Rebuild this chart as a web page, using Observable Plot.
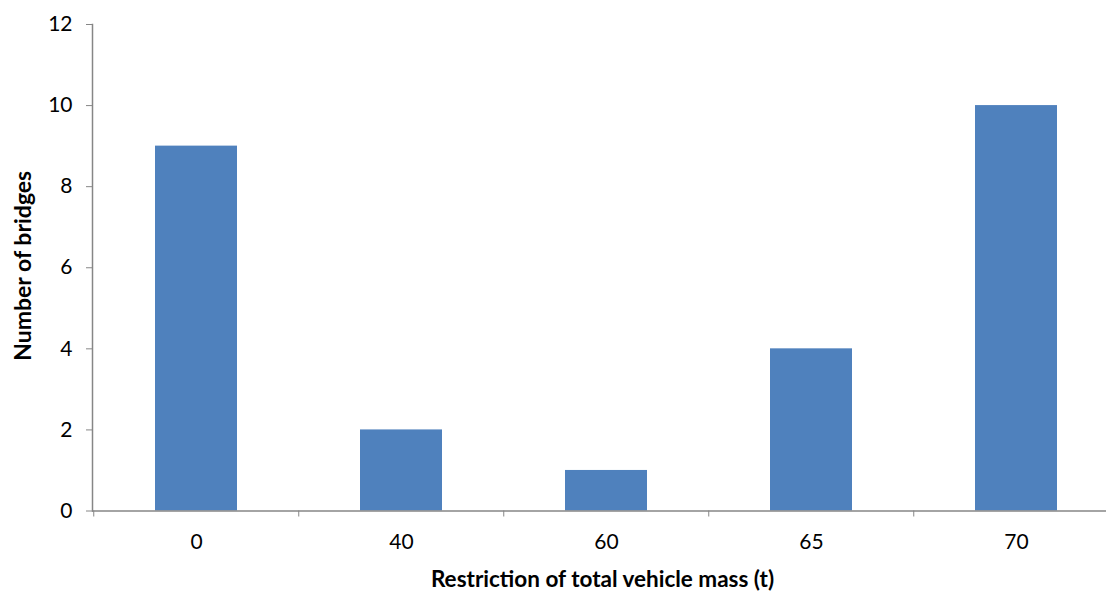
<!DOCTYPE html>
<html>
<head>
<meta charset="utf-8">
<script src="https://cdn.jsdelivr.net/npm/d3@7"></script>
<script src="https://cdn.jsdelivr.net/npm/@observablehq/plot@0.6"></script>
<style>
  html, body { margin: 0; padding: 0; background: #fff; }
  svg { display: block; }
</style>
</head>
<body>
<div id="chart"></div>
<script>
const categories = ["0", "40", "60", "65", "70"];
const bridges = [9, 2, 1, 4, 10];
const yTicks = [0, 2, 4, 6, 8, 10, 12];
const xTitle = "Restriction of total vehicle mass (t)";
const yTitle = "Number of bridges";

const data = categories.map((c, i) => ({mass: c, count: bridges[i]}));
const axisColor = "#868686";
const font = "Lato, 'Open Sans', sans-serif";
const step = (1119.5 - 92) / 5;

const chart = Plot.plot({
  width: 1106,
  height: 592,
  marginTop: 24,
  marginBottom: 81.5,
  marginLeft: 92,
  marginRight: 0,
  style: {fontFamily: font, color: "#000", background: "#fff"},
  x: {domain: categories, range: [92, 1119.5], paddingInner: 0.6, paddingOuter: 0.3},
  y: {domain: [0, 12]},
  marks: [
    Plot.barY(data, {x: "mass", y: "count", fill: "#4F81BD"}),
    Plot.frame({anchor: "left", stroke: axisColor, strokeWidth: 1.5}),
    Plot.ruleY([0], {stroke: axisColor, strokeWidth: 1.5}),
    Plot.axisY({ticks: yTicks, tickSize: 6, tickPadding: 14, fontSize: 21, stroke: axisColor, color: "#000", label: null, tickFormat: d => d}),
    Plot.axisX({tickSize: 6, dx: -step / 2, stroke: axisColor, tickFormat: () => "", label: null}),
    Plot.axisX({tickSize: 0, tickPadding: 23, fontSize: 21, label: null}),
    Plot.text([xTitle], {frameAnchor: "bottom", lineAnchor: "middle", textAnchor: "middle", dy: 69, dx: 3, fontSize: 22.5, fontWeight: "bold", fill: "#000"}),
    Plot.text([yTitle], {frameAnchor: "left", lineAnchor: "middle", textAnchor: "middle", dx: -69, dy: -2, rotate: -90, fontSize: 23, fontWeight: "bold", fill: "#000"})
  ]
});
document.getElementById("chart").appendChild(chart);
</script>
</body>
</html>
